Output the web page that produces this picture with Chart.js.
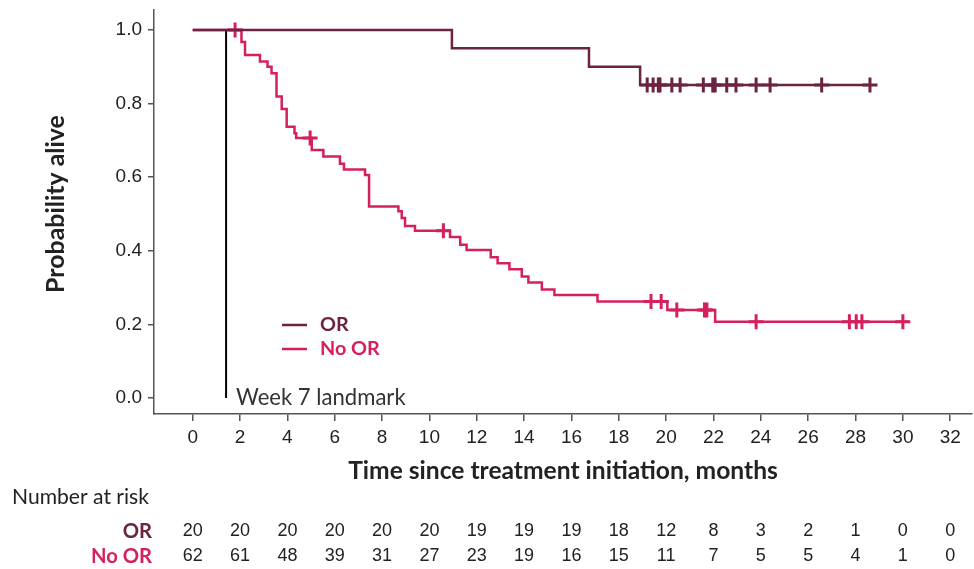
<!DOCTYPE html>
<html>
<head>
<meta charset="utf-8">
<script src="https://cdn.jsdelivr.net/npm/chart.js@4.4.1/dist/chart.umd.min.js"></script>
<style>
  html, body { margin: 0; padding: 0; background: #fff; overflow: hidden; }
  #wrap { width: 974px; height: 569px; position: relative; }
  #km { display: block; }
</style>
</head>
<body>
<div id="wrap"><canvas id="km"></canvas></div>
<script>
// --- data ---
const xTicks = [0, 2, 4, 6, 8, 10, 12, 14, 16, 18, 20, 22, 24, 26, 28, 30, 32];
const yTicks = [0, 0.2, 0.4, 0.6, 0.8, 1.0];

// OR group (step points: time, survival from that time on)
const orTimes = [0, 10.95, 16.74, 18.9, 28.61];
const orSurvival = [1.0, 0.95, 0.90, 0.85, 0.85];
const orCensorTimes = [19.2, 19.45, 19.67, 19.74, 20.24, 20.59, 21.57, 21.97, 22.07, 22.56, 22.95, 23.8, 24.39, 26.57, 28.61];
const orCensorSurvival = [0.85, 0.85, 0.85, 0.85, 0.85, 0.85, 0.85, 0.85, 0.85, 0.85, 0.85, 0.85, 0.85, 0.85, 0.85];

// No OR group
const noOrTimes = [0, 2.06, 2.21, 2.84, 3.16, 3.33, 3.54, 3.76, 3.97, 4.30, 4.37, 5.03, 5.52, 6.22, 6.39, 7.28, 7.45,
  8.69, 8.83, 8.97, 9.39, 10.87, 11.30, 11.57, 12.59, 12.88, 13.38, 13.90, 14.18, 14.75, 15.28, 17.10, 20.05, 22.07, 30.23];
const noOrSurvival = [1.0, 0.967, 0.932, 0.914, 0.900, 0.882, 0.819, 0.785, 0.737, 0.719, 0.706, 0.674, 0.656, 0.636, 0.621, 0.606, 0.520,
  0.507, 0.489, 0.467, 0.454, 0.437, 0.416, 0.402, 0.382, 0.366, 0.350, 0.330, 0.314, 0.295, 0.280, 0.262, 0.239, 0.207, 0.207];
const noOrCensorTimes = [1.79, 4.96, 10.59, 19.36, 19.79, 20.45, 21.62, 21.72, 23.8, 27.74, 28.03, 28.27, 30.0];
const noOrCensorSurvival = [1.0, 0.706, 0.454, 0.262, 0.262, 0.239, 0.239, 0.239, 0.207, 0.207, 0.207, 0.207, 0.207];

const landmarkMonth = 1.41;

// number at risk
const riskTimes = xTicks;
const orAtRisk = [20, 20, 20, 20, 20, 20, 19, 19, 19, 18, 12, 8, 3, 2, 1, 0, 0];
const noOrAtRisk = [62, 61, 48, 39, 31, 27, 23, 19, 16, 15, 11, 7, 5, 5, 4, 1, 0];

const OR_COLOR = '#6c2343';
const NOOR_COLOR = '#d61f5f';
const TEXT = '#222';
const AXIS = '#555';

function pts(xs, ys) { return xs.map((x, i) => ({ x: x, y: ys[i] })); }

// shrink/grow a font so a text takes the width it has in the picture
function fitFont(ctx, text, width, weight, family) {
  ctx.font = weight + ' 20px ' + family;
  const size = 20 * width / ctx.measureText(text).width;
  return weight + ' ' + size.toFixed(1) + 'px ' + family;
}

const extraText = {
  id: 'extraText',
  afterDraw(chart) {
    const ctx = chart.ctx;
    const xs = chart.scales.x;
    ctx.save();
    ctx.fillStyle = TEXT;
    ctx.textBaseline = 'middle';

    // y axis title
    ctx.save();
    ctx.translate(56, 204);
    ctx.rotate(-Math.PI / 2);
    ctx.textAlign = 'center';
    ctx.font = fitFont(ctx, 'Probability alive', 178, 'bold', 'Lato');
    ctx.fillText('Probability alive', 0, 0);
    ctx.restore();

    // x axis title
    ctx.textAlign = 'center';
    ctx.font = fitFont(ctx, 'Time since treatment initiation, months', 430, 'bold', 'Lato');
    ctx.fillText('Time since treatment initiation, months', (chart.chartArea.left + chart.chartArea.right) / 2, 471);

    // landmark label
    ctx.textAlign = 'left';
    ctx.font = fitFont(ctx, 'Week 7 landmark', 170, 'normal', 'Lato');
    ctx.fillStyle = '#333';
    ctx.fillText('Week 7 landmark', 236, 398);

    // legend
    const legend = [['OR', OR_COLOR, 325], ['No OR', NOOR_COLOR, 349]];
    ctx.lineWidth = 2.5;
    legend.forEach(([label, color, y]) => {
      ctx.strokeStyle = color;
      ctx.beginPath();
      ctx.moveTo(282, y);
      ctx.lineTo(307, y);
      ctx.stroke();
      ctx.fillStyle = color;
      ctx.font = fitFont(ctx, 'No OR', 60, 'bold', 'Lato');
      ctx.fillText(label, 320, y);
    });

    // number at risk table
    ctx.fillStyle = TEXT;
    ctx.textAlign = 'left';
    ctx.font = fitFont(ctx, 'Number at risk', 137, 'normal', 'Lato');
    ctx.fillText('Number at risk', 12, 497);

    const rows = [['OR', OR_COLOR, orAtRisk, 531], ['No OR', NOOR_COLOR, noOrAtRisk, 556]];
    rows.forEach(([label, color, vals, y]) => {
      ctx.textAlign = 'right';
      ctx.fillStyle = color;
      ctx.font = fitFont(ctx, 'No OR', 61, 'bold', 'Lato');
      ctx.fillText(label, 152, y);
      ctx.textAlign = 'center';
      ctx.fillStyle = TEXT;
      ctx.font = 'normal 18px "Liberation Sans"';
      vals.forEach((v, i) => ctx.fillText(String(v), xs.getPixelForValue(riskTimes[i]), y));
    });
    ctx.restore();
  }
};

new Chart(document.getElementById('km'), {
  type: 'line',
  data: {
    datasets: [
      {
        label: 'OR',
        data: pts(orTimes, orSurvival),
        borderColor: OR_COLOR,
        borderWidth: 2.5,
        stepped: 'before',
        pointRadius: 0,
        order: 1
      },
      {
        label: 'OR censored',
        data: pts(orCensorTimes, orCensorSurvival),
        borderColor: OR_COLOR,
        backgroundColor: OR_COLOR,
        borderWidth: 3,
        showLine: false,
        pointStyle: 'cross',
        pointRadius: 7.5,
        pointBorderWidth: 3,
        order: 0
      },
      {
        label: 'No OR',
        data: pts(noOrTimes, noOrSurvival),
        borderColor: NOOR_COLOR,
        borderWidth: 2.5,
        stepped: 'before',
        pointRadius: 0,
        order: 3
      },
      {
        label: 'No OR censored',
        data: pts(noOrCensorTimes, noOrCensorSurvival),
        borderColor: NOOR_COLOR,
        backgroundColor: NOOR_COLOR,
        borderWidth: 3,
        showLine: false,
        pointStyle: 'cross',
        pointRadius: 7.5,
        pointBorderWidth: 3,
        order: 2
      },
      {
        label: 'Landmark',
        data: pts([landmarkMonth, landmarkMonth], [0, 1]),
        borderColor: '#000',
        borderWidth: 2,
        pointRadius: 0,
        order: 4
      }
    ]
  },
  options: {
    responsive: true,
    maintainAspectRatio: false,
    animation: false,
    layout: { autoPadding: false, padding: { top: 10, right: 2, left: 0, bottom: 0 } },
    plugins: {
      legend: { display: false },
      tooltip: { enabled: false }
    },
    scales: {
      x: {
        type: 'linear',
        min: -1.635,
        max: 32.92,
        afterBuildTicks: (s) => { s.ticks = xTicks.map(v => ({ value: v })); },
        afterFit: (s) => { s.height = 155; s.paddingLeft = 0; s.paddingRight = 0; },
        ticks: {
          color: TEXT,
          font: { family: 'Liberation Sans', size: 19 },
          padding: 5,
          maxRotation: 0,
          autoSkip: false
        },
        grid: { drawOnChartArea: false, drawTicks: true, tickLength: 7, color: AXIS, lineWidth: 1.5 },
        border: { display: true, color: AXIS, width: 1.5 }
      },
      y: {
        type: 'linear',
        min: -0.0435,
        max: 1.054,
        afterBuildTicks: (s) => { s.ticks = yTicks.map(v => ({ value: v })); },
        afterFit: (s) => { s.width = 154; s.paddingTop = 0; s.paddingBottom = 0; },
        ticks: {
          color: TEXT,
          font: { family: 'Liberation Sans', size: 19 },
          padding: 6,
          callback: (v) => Number(v).toFixed(1)
        },
        grid: { drawOnChartArea: false, drawTicks: true, tickLength: 6, color: AXIS, lineWidth: 1.5 },
        border: { display: true, color: AXIS, width: 1.5 }
      }
    }
  },
  plugins: [extraText]
});
</script>
</body>
</html>
